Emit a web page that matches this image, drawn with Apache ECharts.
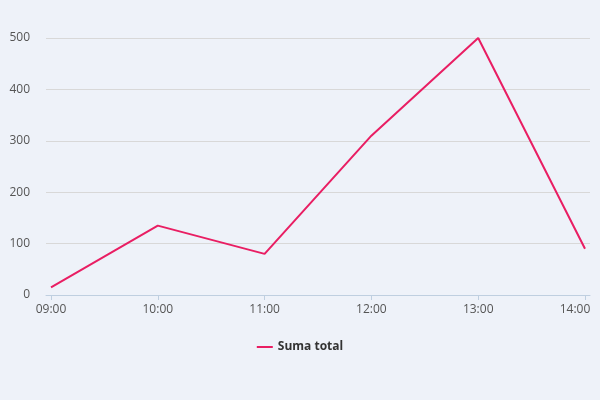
<!DOCTYPE html>
<html><head><meta charset="utf-8">
<script src="https://cdn.jsdelivr.net/npm/echarts@6/dist/echarts.min.js"></script>
<style>html,body{margin:0;padding:0;background:#eef2f9;}#c{width:600px;height:400px;}</style>
</head><body><div id="c"></div>
<script>
const categories = ['09:00','10:00','11:00','12:00','13:00','14:00'];
const sumaTotal = [15, 135, 80, 310, 500, 90];
const seriesName = 'Suma total';
const yMin = 0, yMax = 500, yStep = 100;

const font = 'Open Sans';
const chart = echarts.init(document.getElementById('c'));
chart.setOption({
  backgroundColor: '#eef2f9',
  animation: false,
  textStyle: { fontFamily: font },
  legend: {
    bottom: 42, left: 'center',
    itemWidth: 16, itemHeight: 2, itemGap: 6,
    icon: 'rect',
    textStyle: { fontFamily: font, fontSize: 12, fontWeight: 'bold', color: '#333' },
    data: [seriesName]
  },
  grid: [
    { left: 51, right: 15, top: 38, bottom: 105 },
    { left: 46, right: 10, top: 38, bottom: 105 }
  ],
  xAxis: [
    { type: 'category', gridIndex: 0, data: categories, boundaryGap: false,
      axisLine: { show: false },
      axisTick: { show: true, length: 5, lineStyle: { color: '#bfcfe0' } },
      axisLabel: { color: '#555', fontSize: 12, margin: 9, fontFamily: font,
        formatter: function (v, i) { return i === categories.length - 1 ? '{last|' + v + '}' : v; },
        rich: { last: { color: '#555', fontSize: 12, fontFamily: font, padding: [0, 20, 0, 0] } } },
      splitLine: { show: false } },
    { type: 'value', gridIndex: 1, min: 0, max: 1,
      axisLine: { show: true, lineStyle: { color: '#bfcfe0' } },
      axisTick: { show: false }, axisLabel: { show: false }, splitLine: { show: false } }
  ],
  yAxis: [
    { type: 'value', gridIndex: 0, min: yMin, max: yMax, interval: yStep, show: false },
    { type: 'value', gridIndex: 1, min: yMin, max: yMax, interval: yStep,
      axisLine: { show: false }, axisTick: { show: false },
      axisLabel: { color: '#555', fontSize: 12, margin: 16, fontFamily: font },
      splitLine: { lineStyle: { color: '#d8d8d8' } } }
  ],
  series: [{
    name: seriesName, type: 'line', xAxisIndex: 0, yAxisIndex: 0,
    data: sumaTotal, showSymbol: false, symbol: 'none',
    lineStyle: { color: '#e91e63', width: 2 },
    itemStyle: { color: '#e91e63' }
  }]
});
</script></body></html>
